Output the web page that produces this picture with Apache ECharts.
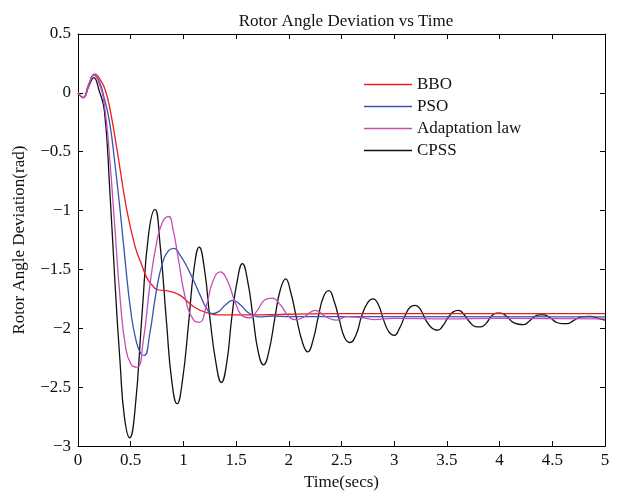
<!DOCTYPE html>
<html>
<head>
<meta charset="utf-8">
<script src="https://cdn.jsdelivr.net/npm/echarts@6/dist/echarts.min.js"></script>
<style>
  html, body { margin: 0; padding: 0; background: #fff; }
  #chart-container { width: 617px; height: 496px; }
</style>
</head>
<body>
<div id="chart-container"></div>
<script>
var dom = document.getElementById("chart-container");
var myChart = echarts.init(dom, null, { renderer: "canvas" });

// values, [time, deviation]
var seriesNames = ["BBO", "PSO", "Adaptation law", "CPSS"];
var seriesColors = ["#ee1c1c", "#3653b0", "#c34fb4", "#111111"];

var bbo = [
  [0, 0], [0.05, -0.04], [0.1, 0.07], [0.16, 0.16], [0.22, 0.1], [0.26, 0.02],
  [0.3, -0.12], [0.37, -0.48], [0.46, -0.98], [0.54, -1.3], [0.6, -1.45],
  [0.65, -1.565], [0.7, -1.63], [0.75, -1.67], [0.87, -1.685], [0.97, -1.72],
  [1.09, -1.81], [1.22, -1.867], [1.37, -1.885], [1.6, -1.885], [2.0, -1.88],
  [2.45, -1.875], [5, -1.875]
];

var pso = [
  [0, 0], [0.05, -0.04], [0.1, 0.06], [0.15, 0.15], [0.2, 0.1], [0.25, -0.05],
  [0.3, -0.25], [0.35, -0.6], [0.4, -1.0], [0.45, -1.45], [0.5, -1.85],
  [0.55, -2.1], [0.6, -2.22], [0.63, -2.23], [0.68, -2.05], [0.74, -1.7],
  [0.8, -1.45], [0.86, -1.34], [0.91, -1.32], [0.97, -1.38], [1.03, -1.47],
  [1.1, -1.6], [1.16, -1.72], [1.22, -1.83], [1.27, -1.875], [1.33, -1.86],
  [1.4, -1.8], [1.47, -1.763], [1.54, -1.8], [1.62, -1.87], [1.7, -1.9],
  [1.74, -1.903], [1.85, -1.895], [2.0, -1.9], [2.5, -1.9], [5.0, -1.903]
];

var adaptation = [
  [0, 0], [0.05, -0.04], [0.1, 0.06], [0.15, 0.15], [0.2, 0.08], [0.25, -0.1],
  [0.3, -0.55], [0.35, -1.15], [0.4, -1.75], [0.45, -2.15], [0.5, -2.3],
  [0.56, -2.33], [0.62, -2.1], [0.68, -1.65], [0.74, -1.3], [0.8, -1.1],
  [0.86, -1.05], [0.9, -1.15], [0.95, -1.4], [1.02, -1.75], [1.09, -1.92],
  [1.15, -1.95], [1.22, -1.8], [1.28, -1.6], [1.35, -1.52], [1.42, -1.6],
  [1.5, -1.8], [1.57, -1.9], [1.63, -1.91], [1.7, -1.85], [1.77, -1.76],
  [1.84, -1.743], [1.92, -1.8], [2.0, -1.9], [2.07, -1.926], [2.15, -1.9],
  [2.25, -1.847], [2.35, -1.9], [2.45, -1.93], [2.55, -1.9], [2.7, -1.91],
  [2.8, -1.925], [3.0, -1.915], [3.5, -1.92], [4.0, -1.915], [5.0, -1.92]
];

var cpss = [
  [0, 0], [0.05, -0.04], [0.1, 0.05], [0.15, 0.13], [0.2, 0.02], [0.25, -0.15],
  [0.3, -0.8], [0.35, -1.6], [0.4, -2.3], [0.44, -2.75], [0.49, -2.93],
  [0.54, -2.7], [0.61, -1.85], [0.67, -1.2], [0.73, -0.99], [0.78, -1.3],
  [0.84, -1.95], [0.89, -2.45], [0.94, -2.64], [0.99, -2.45], [1.05, -1.95],
  [1.1, -1.5], [1.15, -1.31], [1.2, -1.5], [1.25, -1.9], [1.31, -2.3],
  [1.36, -2.46], [1.41, -2.3], [1.46, -1.9], [1.51, -1.6], [1.56, -1.45],
  [1.61, -1.6], [1.66, -1.9], [1.71, -2.2], [1.76, -2.31], [1.81, -2.2],
  [1.87, -1.9], [1.92, -1.67], [1.97, -1.58], [2.02, -1.7], [2.07, -1.9],
  [2.13, -2.12], [2.18, -2.2], [2.23, -2.1], [2.28, -1.9], [2.33, -1.73],
  [2.38, -1.68], [2.43, -1.77], [2.48, -1.93], [2.53, -2.08], [2.58, -2.12],
  [2.64, -2.05], [2.69, -1.9], [2.75, -1.78], [2.8, -1.75], [2.85, -1.8],
  [2.9, -1.93], [2.95, -2.03], [3.0, -2.06], [3.05, -2.0], [3.1, -1.9],
  [3.15, -1.82], [3.2, -1.805], [3.25, -1.84], [3.3, -1.93], [3.36, -2.0],
  [3.41, -2.016], [3.46, -1.98], [3.51, -1.91], [3.56, -1.86], [3.61, -1.847],
  [3.66, -1.88], [3.72, -1.95], [3.77, -1.985], [3.82, -1.988], [3.87, -1.96],
  [3.92, -1.9], [3.97, -1.87], [4.01, -1.87], [4.07, -1.9], [4.12, -1.945],
  [4.18, -1.965], [4.23, -1.968], [4.28, -1.94], [4.33, -1.9], [4.38, -1.885],
  [4.42, -1.886], [4.48, -1.91], [4.53, -1.945], [4.59, -1.96], [4.64, -1.96],
  [4.7, -1.935], [4.75, -1.91], [4.81, -1.9], [4.86, -1.898], [4.92, -1.91],
  [5.0, -1.93]
];

var allData = [bbo, pso, adaptation, cpss];

var font = "'Liberation Serif', 'DejaVu Serif', serif";
var axisLine = { show: true, onZero: false, lineStyle: { color: "#000", width: 1 } };
var tick = { show: true, inside: true, length: 5, lineStyle: { color: "#000" } };
function minus(v) { return String(v).replace("-", "\u2212"); }

var option = {
  animation: false,
  textStyle: { fontFamily: font },
  title: {
    text: "Rotor Angle Deviation vs Time",
    left: 341,
    top: 8,
    textAlign: "center",
    textStyle: { fontFamily: font, fontSize: 17, fontWeight: "normal", color: "#111" }
  },
  legend: {
    orient: "vertical",
    left: 359,
    top: 71,
    icon: "rect",
    itemWidth: 48,
    itemHeight: 1.6,
    itemGap: 5,
    textStyle: { fontFamily: font, fontSize: 17, color: "#111", lineHeight: 17 },
    data: seriesNames
  },
  grid: { left: 78, top: 34, right: 12, bottom: 48 },
  xAxis: [
    {
      type: "value", min: 0, max: 5, interval: 0.5,
      name: "Time(secs)", nameLocation: "middle", nameGap: 24,
      nameTextStyle: { fontFamily: font, fontSize: 17, color: "#111" },
      axisLine: axisLine, axisTick: tick, splitLine: { show: false },
      axisLabel: { fontFamily: font, fontSize: 17, color: "#111", margin: 6 }
    },
    {
      type: "value", min: 0, max: 5, interval: 0.5, position: "top",
      axisLine: axisLine, axisTick: tick, splitLine: { show: false },
      axisLabel: { show: false }
    }
  ],
  yAxis: [
    {
      type: "value", min: -3, max: 0.5, interval: 0.5,
      name: "Rotor Angle Deviation(rad)", nameLocation: "middle", nameGap: 50,
      nameTextStyle: { fontFamily: font, fontSize: 17, color: "#111" },
      axisLine: axisLine, axisTick: tick, splitLine: { show: false },
      axisLabel: { fontFamily: font, fontSize: 17, color: "#111", margin: 7, formatter: minus }
    },
    {
      type: "value", min: -3, max: 0.5, interval: 0.5, position: "right",
      axisLine: axisLine, axisTick: tick, splitLine: { show: false },
      axisLabel: { show: false }
    }
  ],
  series: seriesNames.map(function (name, i) {
    return {
      name: name,
      type: "line",
      data: allData[i],
      symbol: "none",
      smooth: 0.5,
      z: i === 3 ? 1 : 2,
      lineStyle: { color: seriesColors[i], width: 1.3 },
      itemStyle: { color: seriesColors[i] }
    };
  })
};

myChart.setOption(option);
window.addEventListener("resize", myChart.resize);
</script>
</body>
</html>
